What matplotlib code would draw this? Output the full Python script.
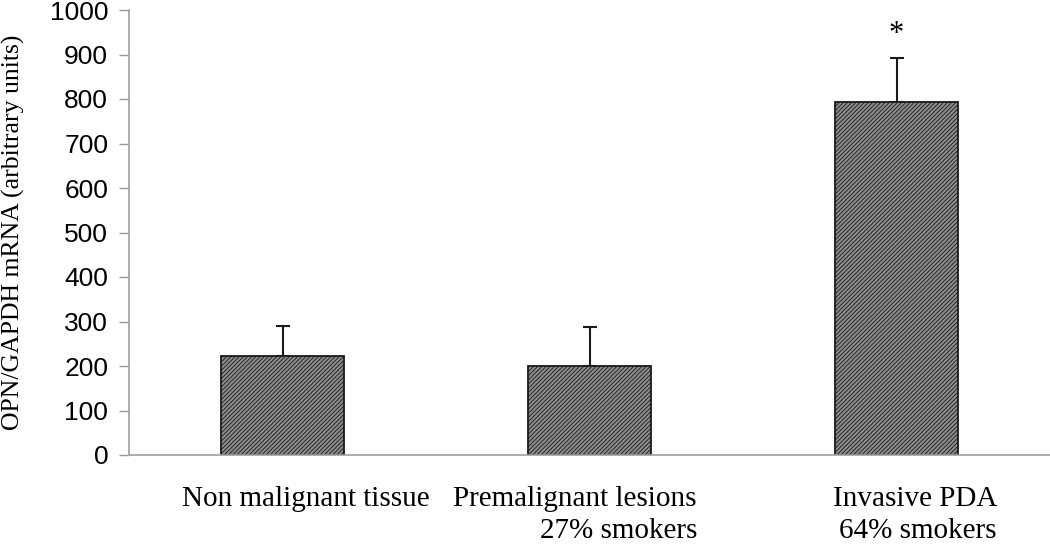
import numpy as np
import matplotlib
matplotlib.use('Agg')
import matplotlib.pyplot as plt

groups = ['Non malignant tissue', 'Premalignant lesions\n27% smokers', 'Invasive PDA\n64% smokers']
means = [223, 200, 794]
errors = [66, 88, 98]
# right edge of each category label, in category units
label_right = [0.98, 1.85, 2.827]

plt.rcParams['hatch.linewidth'] = 0.6
plt.rcParams['hatch.color'] = '#404040'

fig = plt.figure(figsize=(10.5, 5.44), dpi=100)
ax = fig.add_axes([129 / 1050, 89 / 544, 921 / 1050, 445 / 544])

x = np.arange(len(means)) + 0.5
ax.bar(x, means, width=0.4, color='#8c8c8c', edgecolor='#1a1a1a',
       linewidth=1.3, hatch='////////', zorder=2)
ax.errorbar(x, means, yerr=[np.zeros(len(errors)), errors], fmt='none',
            ecolor='#1a1a1a', elinewidth=1.5, capsize=5, capthick=1.5, zorder=1)
ax.text(x[2], 945, '*', ha='center', va='center',
        fontsize=22, family='Liberation Serif')

ax.set_xlim(0, 3)
ax.set_ylim(0, 1000)
ax.set_yticks(np.arange(0, 1001, 100))
ax.set_xticks([])
ax.tick_params(axis='y', direction='out', length=7, width=1, color='#999999',
               labelsize=19, pad=8)
for lab in ax.get_yticklabels():
    lab.set_family('Liberation Sans')

for s in ['top', 'right']:
    ax.spines[s].set_visible(False)
for s in ['left', 'bottom']:
    ax.spines[s].set_color('#a0a0a0')
    ax.spines[s].set_linewidth(1.2)

ax.set_ylabel('OPN/GAPDH mRNA (arbitrary units)', family='Liberation Serif',
              fontsize=18.5)
ax.yaxis.set_label_coords(-0.113, 0.50)

for xp, g in zip(label_right, groups):
    ax.text(xp, -70, g, ha='right', va='top', fontsize=21, multialignment='right',
            family='Liberation Serif', linespacing=1.3)

fig.savefig('out.png', dpi=100)
